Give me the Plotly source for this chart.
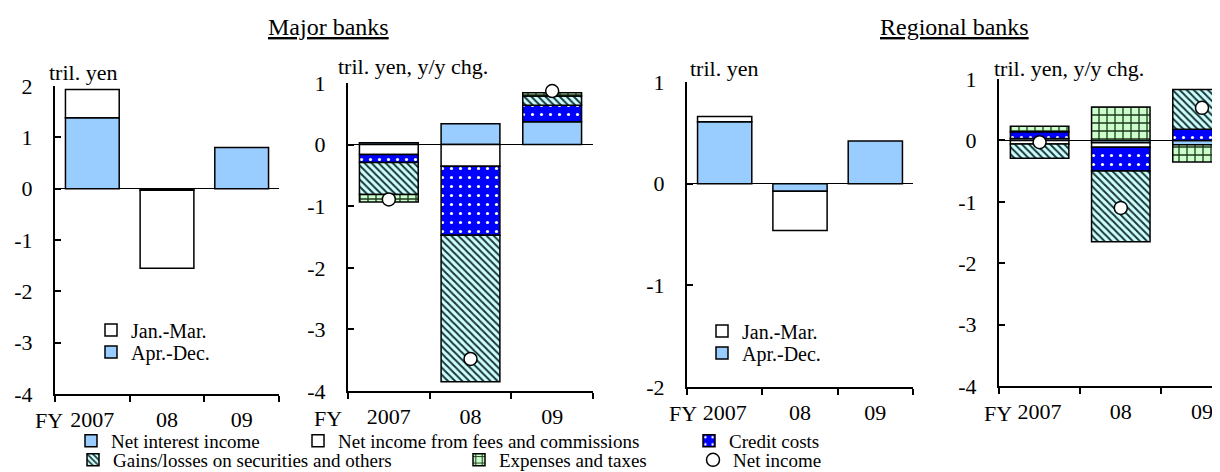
import plotly.graph_objects as go
from plotly.subplots import make_subplots

years = ["2007", "08", "09"]

# net income, tril. yen
major_apr_dec = [1.38, -0.03, 0.80]
major_jan_mar = [0.55, -1.52, None]
regional_apr_dec = [0.61, -0.075, 0.42]
regional_jan_mar = [0.05, -0.385, None]

# y/y change and its breakdown, tril. yen
major_nii = [0.03, 0.34, 0.37]
major_fees = [-0.16, -0.35, None]
major_credit = [-0.13, -1.12, 0.27]
major_gains = [-0.52, -2.38, 0.15]
major_expenses = [-0.12, None, 0.05]
major_net = [-0.89, -3.48, 0.87]

regional_nii = [0.03, -0.04, -0.07]
regional_fees = [-0.06, -0.07, None]
regional_credit = [0.11, -0.39, 0.18]
regional_gains = [-0.23, -1.15, 0.65]
regional_expenses = [0.09, 0.545, -0.28]
regional_net = [-0.03, -1.10, 0.53]

FONT = "Liberation Serif, Times New Roman, serif"
W, H = 1220, 472


def px(x):
    return x / W


def py(y):
    return 1 - y / H


LINE = dict(color="black", width=1.5)

# name, marker, bottom legend row, legend width
components = [
    ("Net interest income", dict(color="#99CCFF"), "legend5", 182),
    ("Net income from fees and commissions", dict(color="white"), "legend5", 346),
    ("Credit costs", dict(color="#0000FF",
        pattern=dict(shape=".", fgcolor="white", bgcolor="#0000FF", size=9, solidity=0.1)),
        "legend5", None),
    ("Gains/losses on securities and others", dict(color="#CCFFFF",
        pattern=dict(shape="\\", fgcolor="#1c3434", bgcolor="#CCFFFF", size=5, solidity=0.4)),
        "legend6", 341),
    ("Expenses and taxes", dict(color="#CCFFCC",
        pattern=dict(shape="+", fgcolor="#1c381c", bgcolor="#CCFFCC", size=8, solidity=0.3)),
        "legend6", 189),
]

fig = make_subplots(rows=1, cols=4)

# panels 1 and 3: net income by quarter
for col, apr_dec, jan_mar, lg in [(1, major_apr_dec, major_jan_mar, ("legend2", "legend")),
                                   (3, regional_apr_dec, regional_jan_mar, ("legend4", "legend3"))]:
    fig.add_trace(go.Bar(x=years, y=apr_dec, name="Apr.-Dec.", legend=lg[0], showlegend=True,
                         marker=dict(color="#99CCFF", line=LINE)), row=1, col=col)
    fig.add_trace(go.Bar(x=years, y=jan_mar, name="Jan.-Mar.", legend=lg[1], showlegend=True,
                         marker=dict(color="white", line=LINE)), row=1, col=col)

# panels 2 and 4: y/y change breakdown
major_parts = [major_nii, major_fees, major_credit, major_gains, major_expenses]
regional_parts = [regional_nii, regional_fees, regional_credit, regional_gains, regional_expenses]
for col, parts, net, show in [(2, major_parts, major_net, True), (4, regional_parts, regional_net, False)]:
    for (name, mk, lg, lw), vals in zip(components, parts):
        fig.add_trace(go.Bar(x=years, y=vals, name=name, legend=lg, legendwidth=lw,
                             showlegend=show, marker=dict(mk, line=LINE)), row=1, col=col)
    fig.add_trace(go.Scatter(x=years, y=net, name="Net income", mode="markers", legend="legend6",
                             showlegend=show, cliponaxis=False,
                             marker=dict(symbol="circle", size=13, color="white",
                                         line=dict(color="black", width=1.5))), row=1, col=col)

x_dom = [(47, 271), (340, 585), (679, 905), (991, 1220)]
y_dom = [(78, 386), (75, 383), (74, 379), (71, 378)]
y_rng = [(-4, 2), (-4, 1), (-2, 1), (-4, 1)]
x_rng = [(-0.5, 2.5), (-0.5, 2.5), (-0.5, 2.5), (-0.5, 2.32)]

for i in range(4):
    yt = list(range(y_rng[i][0], y_rng[i][1] + 1))
    fig.update_xaxes(domain=[px(x_dom[i][0]), px(x_dom[i][1])], range=list(x_rng[i]),
                     type="category", tickson="boundaries", ticks="outside", ticklen=6,
                     tickwidth=1.5, tickcolor="black", showline=True, linecolor="black",
                     linewidth=2, showgrid=False, ticklabelstandoff=5,
                     tickfont=dict(size=22, color="black"), row=1, col=i + 1)
    fig.update_yaxes(domain=[py(y_dom[i][1]), py(y_dom[i][0])], range=list(y_rng[i]),
                     tickvals=yt, ticktext=[str(v) for v in yt],
                     ticks="inside", ticklen=6, tickwidth=1.5, tickcolor="black",
                     showline=True, linecolor="black", linewidth=2, showgrid=False,
                     zeroline=True, zerolinecolor="black", zerolinewidth=1,
                     ticklabelstandoff=16, tickfont=dict(size=22, color="black"),
                     row=1, col=i + 1)

ann = []
for x, txt in [(320, "<u>Major banks</u>"), (946, "<u>Regional banks</u>")]:
    ann.append(dict(x=px(x), y=py(19), xref="paper", yref="paper", text=txt,
                    showarrow=False, xanchor="center", yanchor="middle", font=dict(size=24)))
for x, y, txt in [(39, 65, "tril. yen"), (328, 58, "tril. yen, y/y chg."),
                  (680, 61, "tril. yen"), (984, 61, "tril. yen, y/y chg.")]:
    ann.append(dict(x=px(x), y=py(y), xref="paper", yref="paper", text=txt,
                    showarrow=False, xanchor="left", yanchor="middle", font=dict(size=22)))
for x, y in [(57, 412), (336, 410), (691, 405), (1006, 405)]:
    ann.append(dict(x=px(x), y=py(y), xref="paper", yref="paper", text="FY",
                    showarrow=False, xanchor="right", yanchor="middle", font=dict(size=22)))

leg_small = dict(font=dict(size=20), xanchor="left", yanchor="middle", bgcolor="rgba(0,0,0,0)",
                 borderwidth=0, tracegroupgap=0)
leg_bottom = dict(font=dict(size=19), orientation="h", xanchor="left", yanchor="middle",
                  bgcolor="rgba(0,0,0,0)", borderwidth=0)

fig.update_layout(
    width=W, height=H,
    margin=dict(l=0, r=0, t=0, b=0),
    template="none",
    showlegend=True,
    paper_bgcolor="white", plot_bgcolor="white",
    font=dict(family=FONT, color="black"),
    barmode="relative", bargap=0.28,
    annotations=ann,
    legend=dict(leg_small, x=px(83), y=py(322)),
    legend2=dict(leg_small, x=px(83), y=py(344)),
    legend3=dict(leg_small, x=px(694), y=py(323)),
    legend4=dict(leg_small, x=px(694), y=py(345)),
    legend5=dict(leg_bottom, x=px(63), y=py(433)),
    legend6=dict(leg_bottom, x=px(65), y=py(452)),
)

fig.write_html("out.html")
